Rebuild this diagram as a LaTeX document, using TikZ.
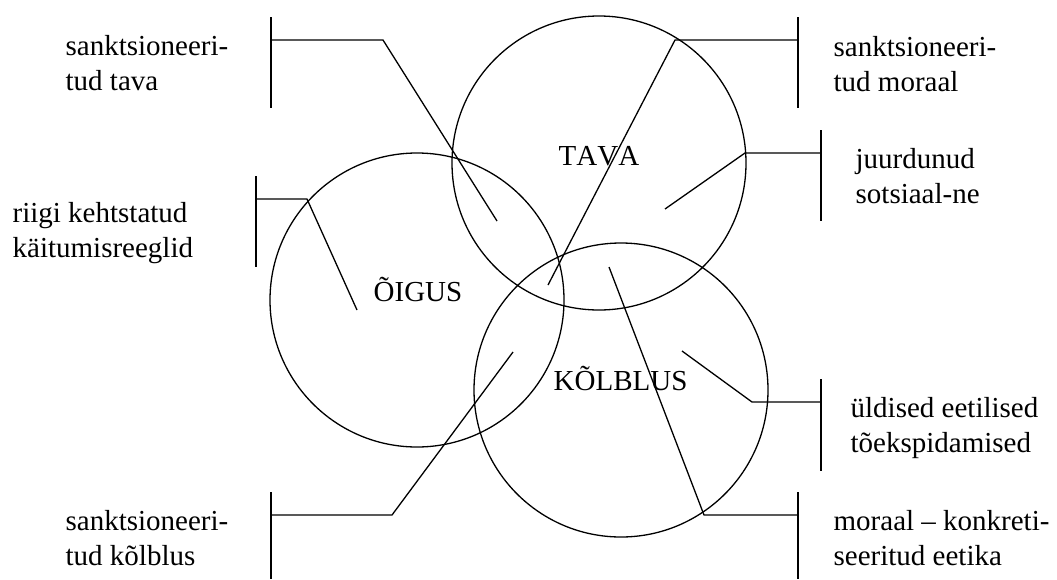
\documentclass[tikz,border=0pt]{standalone}
\usepackage{fontspec}
\setmainfont{Liberation Serif}[Kerning=Off]
\begin{document}
\begin{tikzpicture}[x=1pt,y=-1pt,line width=1.3pt,
  ring/.style={circle,draw,minimum size=294pt,inner sep=0pt},
  lbl/.style={font=\fontsize{29}{35}\selectfont,align=left,inner sep=0pt,anchor=base west},
  lead/.style={line width=1.3pt}]
\useasboundingbox (0,0) rectangle (1057,579);
% circles
\node[ring] (oigus) at (417,300) {};
\node[ring] (tava) at (599,163) {};
\node[ring] (kolblus) at (621,390) {};
% circle titles
\node[lbl] (toigus) at (373,301) {ÕIGUS};
\node[lbl] (ttava) at (558,165) {TAVA};
\node[lbl] (tkolblus) at (553,390) {KÕLBLUS};
% side labels (anchored at the baseline of the last line)
\node[lbl] (l1) at (65,90) {sanktsioneeri-\\tud tava};
\node[lbl] (l2) at (12,257) {riigi kehtstatud\\käitumisreeglid};
\node[lbl] (l3) at (833,91) {sanktsioneeri-\\tud moraal};
\node[lbl] (l4) at (855,203) {juurdunud\\sotsiaal-ne};
\node[lbl] (l5) at (850,452) {üldised eetilised\\tõekspidamised};
\node[lbl] (l6) at (833,565) {moraal – konkreti-\\seeritud eetika};
\node[lbl] (l7) at (65,565) {sanktsioneeri-\\tud kõlblus};
% bracket points
\coordinate (b1t) at (271,17); \coordinate (b1b) at (271,108);
\coordinate (b1m) at (271,40); \coordinate (b1k) at (383,40); \coordinate (b1e) at (497,221);
\coordinate (b2t) at (256,176); \coordinate (b2b) at (256,267);
\coordinate (b2m) at (256,199); \coordinate (b2k) at (307,199); \coordinate (b2e) at (357,310);
\coordinate (b3t) at (798,17); \coordinate (b3b) at (798,108);
\coordinate (b3m) at (798,40); \coordinate (b3k) at (675,40); \coordinate (b3e) at (548,285);
\coordinate (b4t) at (821,130); \coordinate (b4b) at (821,221);
\coordinate (b4m) at (821,153); \coordinate (b4k) at (745,153); \coordinate (b4e) at (665,209);
\coordinate (b5t) at (821,379); \coordinate (b5b) at (821,471);
\coordinate (b5m) at (821,402); \coordinate (b5k) at (752,402); \coordinate (b5e) at (682,351);
\coordinate (b6t) at (798,492); \coordinate (b6b) at (798,579);
\coordinate (b6m) at (798,515); \coordinate (b6k) at (704,515); \coordinate (b6e) at (609,267);
\coordinate (b7t) at (271,492); \coordinate (b7b) at (271,579);
\coordinate (b7m) at (271,515); \coordinate (b7k) at (392,515); \coordinate (b7e) at (513,352);
\foreach \i in {1,...,7}{
  \draw[lead] (b\i t) -- (b\i b);
  \draw[lead] (b\i m) -- (b\i k) -- (b\i e);
}
\end{tikzpicture}
\end{document}
